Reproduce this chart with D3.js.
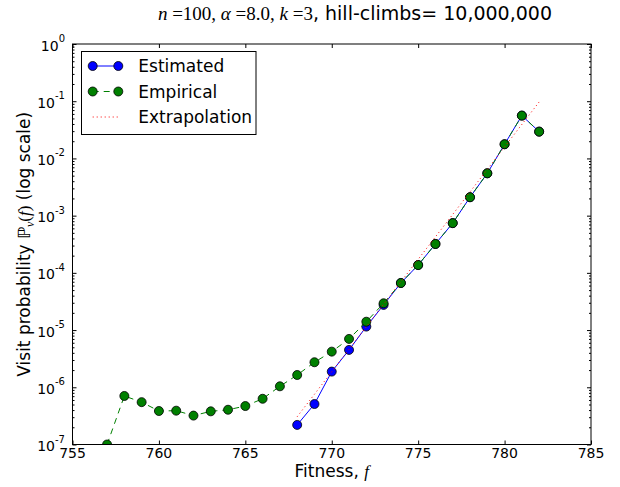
<!DOCTYPE html>
<html>
<head>
<meta charset="utf-8">
<script src="https://cdn.jsdelivr.net/npm/d3@7"></script>
<style>
  html, body { margin: 0; padding: 0; background: #fff; }
  svg { display: block; }
  .sans { font-family: "DejaVu Sans", sans-serif; }
  .serif { font-family: "Liberation Serif", "DejaVu Serif", serif; }
</style>
</head>
<body>
<svg id="chart" width="620" height="487"></svg>
<script>
// Fitness values and visit probabilities
const empiricalFitness = [757, 758, 759, 760, 761, 762, 763, 764, 765, 766, 767, 768, 769, 770,
                          771, 772, 773, 774, 775, 776, 777, 778, 779, 780, 781, 782];
const empiricalProb = [1.0e-7, 7.05e-7, 5.5e-7, 3.85e-7, 3.9e-7, 3.2e-7, 3.8e-7, 4.05e-7, 4.7e-7,
                       6.3e-7, 1.04e-6, 1.64e-6, 2.74e-6, 4.2e-6, 7.0e-6, 1.40e-5, 2.94e-5,
                       6.65e-5, 1.37e-4, 3.2e-4, 7.4e-4, 2.1e-3, 5.5e-3, 1.77e-2, 5.6e-2, 2.94e-2];

const estimatedFitness = [768, 769, 770, 771, 772, 773, 774, 775, 776, 777, 778, 779, 780, 781, 782];
const estimatedProb = [2.2e-7, 5.1e-7, 1.88e-6, 4.5e-6, 1.15e-5, 2.75e-5, 6.65e-5, 1.37e-4,
                       3.2e-4, 7.4e-4, 2.1e-3, 5.5e-3, 1.77e-2, 5.6e-2, 2.94e-2];

const extrapFitness = [768, 782];
const extrapProb = [3.06e-7, 0.097];

const xTicks = [755, 760, 765, 770, 775, 780, 785];
const yExponents = [0, -1, -2, -3, -4, -5, -6, -7];

const svg = d3.select("#chart");
const plotL = 72.5, plotR = 591, plotT = 44, plotB = 444.5;

const x = d3.scaleLinear().domain([755, 785]).range([plotL, plotR]);
const y = d3.scaleLog().domain([1e-7, 1]).range([plotB, plotT]);

// Plot clipping
svg.append("defs").append("clipPath").attr("id", "plotclip")
  .append("rect").attr("x", plotL).attr("y", plotT)
  .attr("width", plotR - plotL).attr("height", plotB - plotT);

// Ticks (inside, on all four sides)
const majorY = yExponents.map(e => Math.pow(10, e));
const minorY = [];
for (let e = -7; e < 0; e++) for (let m = 2; m <= 9; m++) minorY.push(m * Math.pow(10, e));

function styleAxis(g) {
  g.select(".domain").remove();
  g.selectAll(".tick line").attr("stroke", "#000").attr("stroke-width", 1);
  g.selectAll(".tick text").remove();
}
svg.append("g").attr("transform", `translate(0,${plotB})`)
  .call(d3.axisBottom(x).tickValues(xTicks).tickSizeInner(-4).tickSizeOuter(0)).call(styleAxis);
svg.append("g").attr("transform", `translate(0,${plotT})`)
  .call(d3.axisTop(x).tickValues(xTicks).tickSizeInner(-4).tickSizeOuter(0)).call(styleAxis);
svg.append("g").attr("transform", `translate(${plotL},0)`)
  .call(d3.axisLeft(y).tickValues(majorY).tickSizeInner(-4).tickSizeOuter(0)).call(styleAxis);
svg.append("g").attr("transform", `translate(${plotL},0)`)
  .call(d3.axisLeft(y).tickValues(minorY).tickSizeInner(-2).tickSizeOuter(0)).call(styleAxis);
svg.append("g").attr("transform", `translate(${plotR},0)`)
  .call(d3.axisRight(y).tickValues(majorY).tickSizeInner(-4).tickSizeOuter(0)).call(styleAxis);
svg.append("g").attr("transform", `translate(${plotR},0)`)
  .call(d3.axisRight(y).tickValues(minorY).tickSizeInner(-2).tickSizeOuter(0)).call(styleAxis);

// X tick labels
svg.append("g").selectAll("text").data(xTicks).join("text")
  .attr("class", "sans").attr("x", d => x(d)).attr("y", plotB + 13.5)
  .attr("text-anchor", "middle").attr("font-size", 14).attr("fill", "#000")
  .text(d => d);

// Y tick labels: 10 with superscript exponent
const yl = svg.append("g").selectAll("text").data(yExponents).join("text")
  .attr("class", "sans").attr("x", 65).attr("y", d => y(Math.pow(10, d)) + 6.5)
  .attr("text-anchor", "end").attr("font-size", 14).attr("fill", "#000");
yl.append("tspan").text("10");
yl.append("tspan").attr("dy", -8.5).attr("font-size", 10)
  .text(d => d === 0 ? "0" : "-" + Math.abs(d));

// Lines and markers
const marks = svg.append("g").attr("clip-path", "url(#plotclip)");
const line = d3.line().x(d => x(d[0])).y(d => y(d[1]));

const estPts = estimatedFitness.map((f, i) => [f, estimatedProb[i]]);
const empPts = empiricalFitness.map((f, i) => [f, empiricalProb[i]]);
const extPts = extrapFitness.map((f, i) => [f, extrapProb[i]]);

marks.append("path").datum(estPts).attr("d", line)
  .attr("fill", "none").attr("stroke", "#0000ff").attr("stroke-width", 1);
marks.append("g").selectAll("circle").data(estPts).join("circle")
  .attr("cx", d => x(d[0])).attr("cy", d => y(d[1])).attr("r", 4.5)
  .attr("fill", "#0000ff").attr("stroke", "#000").attr("stroke-width", 0.8);

marks.append("path").datum(empPts).attr("d", line)
  .attr("fill", "none").attr("stroke", "#008000").attr("stroke-width", 1)
  .attr("stroke-dasharray", "6,5");
marks.append("g").selectAll("circle").data(empPts).join("circle")
  .attr("cx", d => x(d[0])).attr("cy", d => y(d[1])).attr("r", 4.5)
  .attr("fill", "#008000").attr("stroke", "#000").attr("stroke-width", 0.8);

marks.append("path").datum(extPts).attr("d", line)
  .attr("fill", "none").attr("stroke", "#ff0000").attr("stroke-width", 1)
  .attr("stroke-dasharray", "1,3");

// Frame
svg.append("rect").attr("x", plotL).attr("y", plotT)
  .attr("width", plotR - plotL).attr("height", plotB - plotT)
  .attr("fill", "none").attr("stroke", "#000").attr("stroke-width", 1);

// Legend
const legend = svg.append("g");
legend.append("rect").attr("x", 81.5).attr("y", 51.5).attr("width", 174.5).attr("height", 83)
  .attr("fill", "#fff").attr("stroke", "#000").attr("stroke-width", 1);
const legendItems = [
  { label: "Estimated", color: "#0000ff", dash: null, marker: true },
  { label: "Empirical", color: "#008000", dash: "6,5", marker: true },
  { label: "Extrapolation", color: "#ff0000", dash: "1,3", marker: false }
];
legendItems.forEach((it, i) => {
  const cy = 66 + i * 25.5;
  legend.append("line").attr("x1", 92.7).attr("x2", 118.3).attr("y1", cy).attr("y2", cy)
    .attr("stroke", it.color).attr("stroke-width", 1)
    .attr("stroke-dasharray", it.dash);
  if (it.marker) {
    [92.7, 118.3].forEach(cx => legend.append("circle").attr("cx", cx).attr("cy", cy).attr("r", 4.5)
      .attr("fill", it.color).attr("stroke", "#000").attr("stroke-width", 0.8));
  }
  legend.append("text").attr("class", "sans").attr("x", 138.3).attr("y", cy + 6)
    .attr("font-size", 17).attr("fill", "#000").text(it.label);
});

// Title
const title = svg.append("text").attr("x", 552).attr("y", 20)
  .attr("text-anchor", "end").attr("font-size", 19).attr("fill", "#000");
title.append("tspan").attr("class", "serif").attr("font-style", "italic").text("n");
title.append("tspan").attr("class", "serif").text(" =100, ");
title.append("tspan").attr("class", "serif").attr("font-style", "italic").text("α");
title.append("tspan").attr("class", "serif").text(" =8.0, ");
title.append("tspan").attr("class", "serif").attr("font-style", "italic").text("k");
title.append("tspan").attr("class", "serif").text(" =3");
title.append("tspan").attr("class", "sans").text(", hill-climbs= 10,000,000");

// X axis label
const xl = svg.append("text").attr("x", (plotL + plotR) / 2).attr("y", 477)
  .attr("text-anchor", "middle").attr("font-size", 17).attr("fill", "#000");
xl.append("tspan").attr("class", "sans").text("Fitness, ");
xl.append("tspan").attr("class", "serif").attr("font-style", "italic").text("f");

// Y axis label
const ylab = svg.append("text").attr("transform", `translate(30,${(plotT + plotB) / 2}) rotate(-90)`)
  .attr("text-anchor", "middle").attr("font-size", 17).attr("fill", "#000");
ylab.append("tspan").attr("class", "sans").text("Visit probability ");
ylab.append("tspan").attr("class", "sans").text("ℙ");
ylab.append("tspan").attr("class", "serif").attr("font-style", "italic")
  .attr("font-size", 12).attr("dy", 4).text("v");
ylab.append("tspan").attr("class", "serif").attr("dy", -4).text("(");
ylab.append("tspan").attr("class", "serif").attr("font-style", "italic").text("f");
ylab.append("tspan").attr("class", "serif").text(")");
ylab.append("tspan").attr("class", "sans").text(" (log scale)");
</script>
</body>
</html>
